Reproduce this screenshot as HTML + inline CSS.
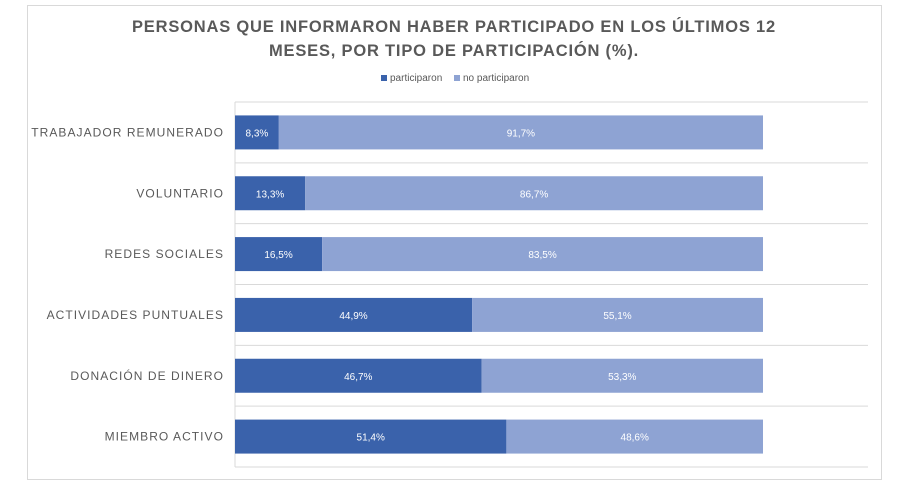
<!DOCTYPE html>
<html><head><meta charset="utf-8"><style>
body{margin:0;background:#fff;font-family:"Liberation Sans",sans-serif}
svg{display:block}
</style></head><body>
<svg width="908" height="485">
<rect x="27.5" y="5.5" width="854" height="474" fill="#fff" stroke="#d9d9d9"/>
<text x="454" y="32" text-anchor="middle" font-size="16.5" font-weight="bold" fill="#595959" letter-spacing="0.8">PERSONAS QUE INFORMARON HABER PARTICIPADO EN LOS ÚLTIMOS 12</text>
<text x="454" y="56" text-anchor="middle" font-size="16.5" font-weight="bold" fill="#595959" letter-spacing="0.8">MESES, POR TIPO DE PARTICIPACIÓN (%).</text>
<g>
<rect x="381" y="75" width="6" height="6" fill="#3a62ab"/>
<text x="390" y="81" font-size="10" fill="#595959">participaron</text>
<rect x="454" y="75" width="6" height="6" fill="#8ea3d3"/>
<text x="463" y="81" font-size="10" fill="#595959">no participaron</text>
</g>
<g id="plot"></g>
</svg>
<script>
const categories=["TRABAJADOR REMUNERADO","VOLUNTARIO","REDES SOCIALES","ACTIVIDADES PUNTUALES","DONACIÓN DE DINERO","MIEMBRO ACTIVO"];
const participaron=[8.3,13.3,16.5,44.9,46.7,51.4];
const noParticiparon=[91.7,86.7,83.5,55.1,53.3,48.6];
const NS="http://www.w3.org/2000/svg";
const g=document.getElementById('plot');
const x0=235,x1=763,plotTop=102,plotBottom=467,gridRight=868;
const step=(plotBottom-plotTop)/categories.length,bh=34;
const xs=v=>x0+(x1-x0)*v/100;
function mk(t,a){const e=document.createElementNS(NS,t);for(const k in a)e.setAttribute(k,a[k]);g.appendChild(e);return e;}
const fmt=v=>v.toFixed(1).replace('.',',')+'%';
for(let i=0;i<=categories.length;i++){
 const l=mk('line',{x1:x0,x2:gridRight,y1:plotTop+i*step,y2:plotTop+i*step,stroke:'#d9d9d9','stroke-width':1});
 
 
}
const ax=mk('line',{x1:x0,x2:x0,y1:plotTop,y2:plotBottom,stroke:'#d9d9d9'});


categories.forEach((c,i)=>{
 const cy=plotTop+step*(i+0.5);
 const lb=mk('text',{x:224,y:cy+4,'text-anchor':'end','font-size':12,fill:'#595959','letter-spacing':'1.05'});
 lb.textContent=c;
 
 
 const p=participaron[i],n=noParticiparon[i];
 const b1=mk('rect',{x:xs(0),y:cy-bh/2,width:xs(p)-xs(0),height:bh,fill:'#3a62ab'});
 
 
 const b2=mk('rect',{x:xs(p),y:cy-bh/2,width:xs(p+n)-xs(p),height:bh,fill:'#8ea3d3'});
 
 
 const t1=mk('text',{x:(xs(0)+xs(p))/2,y:cy+4,'text-anchor':'middle','font-size':10,fill:'#fff'});
 t1.textContent=fmt(p);
 
 
 const t2=mk('text',{x:(xs(p)+xs(p+n))/2,y:cy+4,'text-anchor':'middle','font-size':10,fill:'#fff'});
 t2.textContent=fmt(n);
 
 
});
</script>
</body></html>
